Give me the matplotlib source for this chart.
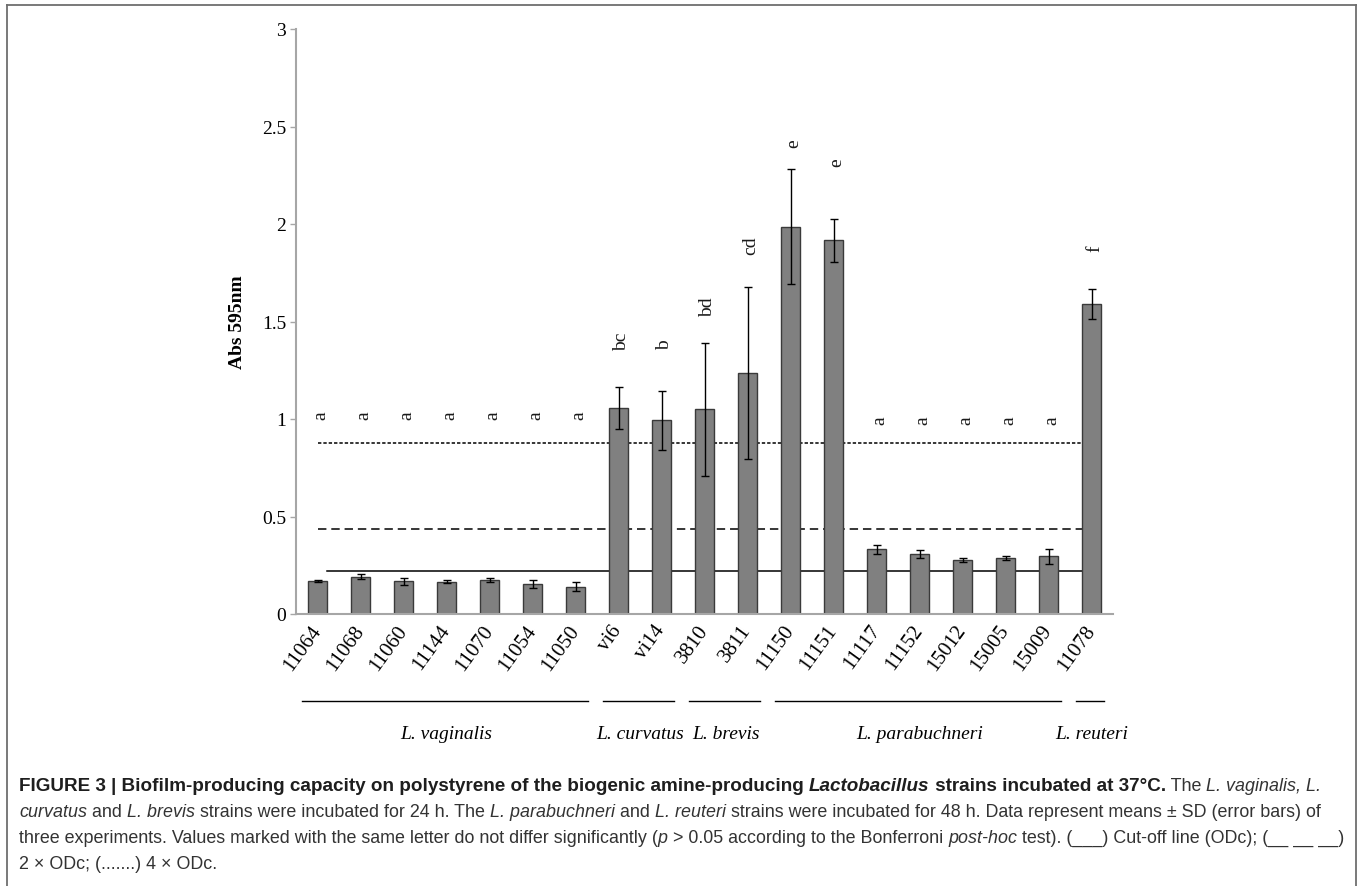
import matplotlib
matplotlib.use("Agg")
import matplotlib.pyplot as plt
import matplotlib.transforms as mtransforms
from matplotlib.lines import Line2D
import numpy as np

# strains and biofilm absorbance (mean, SD)
strains = ["11064", "11068", "11060", "11144", "11070", "11054", "11050",
           "vi6", "vi14", "3810", "3811", "11150", "11151",
           "11117", "11152", "15012", "15005", "15009", "11078"]
abs_mean = [0.168, 0.192, 0.168, 0.165, 0.175, 0.154, 0.141,
            1.057, 0.993, 1.049, 1.236, 1.987, 1.916,
            0.331, 0.308, 0.278, 0.289, 0.295, 1.590]
abs_sd = [0.005, 0.014, 0.017, 0.008, 0.012, 0.022, 0.021,
          0.108, 0.150, 0.340, 0.440, 0.295, 0.110,
          0.022, 0.021, 0.010, 0.011, 0.037, 0.078]

# significance letters and the height they are written at
letters = ["a"] * 7 + ["bc", "b", "bd", "cd", "e", "e"] + ["a"] * 5 + ["f"]
letter_y = [1.02] * 7 + [1.40, 1.385, 1.58, 1.895, 2.415, 2.32] + [0.995] * 5 + [1.88]

# species groups (first and last strain index)
groups = ["L. vaginalis", "L. curvatus", "L. brevis", "L. parabuchneri", "L. reuteri"]
group_first = [0, 7, 9, 11, 18]
group_last = [6, 8, 10, 17, 18]

# cut-off OD
odc = 0.219

serif = "Liberation Serif"
sans = "Liberation Sans"

fig = plt.figure(figsize=(13.62, 8.87), dpi=100)
W, H = 1362, 887
ax = fig.add_axes([296 / W, 1 - 615 / H, 817 / W, 585 / H])

x = np.arange(len(strains))
ax.bar(x, abs_mean, width=0.42, color="#808080", edgecolor="#3a3a3a",
       linewidth=1.0, zorder=2)
ax.errorbar(x, abs_mean, yerr=abs_sd, fmt="none", ecolor="black",
            elinewidth=1.0, capsize=3.0, capthick=1.0, zorder=3)

# ODc, 2xODc, 4xODc lines
ax.plot([0.23, 18.1], [odc, odc], color="black", lw=1.1, zorder=1)
ax.plot([0, 17.85], [2 * odc, 2 * odc], color="black", lw=1.1,
        dashes=(5.5, 3.2), zorder=1)
ax.plot([0, 18.0], [4 * odc, 4 * odc], color="black", lw=1.1,
        dashes=(2.2, 1.3), zorder=1)

for xi, lab, ly in zip(x, letters, letter_y):
    ax.text(xi + 0.08, ly, lab, rotation=90, ha="center", va="center",
            fontsize=14, family=serif, color="#1a1a1a")

ax.set_xlim(-0.5, 18.5)
ax.set_ylim(0, 3)
ax.set_yticks(np.arange(0, 3.01, 0.5))
ax.set_yticklabels(["0", "0.5", "1", "1.5", "2", "2.5", "3"],
                   fontsize=14, family=serif)
ax.set_xticks(x)
ax.set_xticklabels(strains, rotation=54, ha="right", va="center",
                   rotation_mode="anchor", fontsize=15, family=serif)
ax.tick_params(axis="x", length=0, pad=9)
ax.tick_params(axis="y", length=4, width=1.0, color="#a6a6a6", pad=3)
for s in ["top", "right"]:
    ax.spines[s].set_visible(False)
for s in ["left", "bottom"]:
    ax.spines[s].set_color("#a6a6a6")
    ax.spines[s].set_linewidth(1.5)

fig.text(238 / W, 1 - 322 / H, "Abs 595nm", rotation=90, ha="center",
         va="center", fontsize=14, fontweight="bold", family=serif)

# species brackets under the strain labels
trans = mtransforms.blended_transform_factory(ax.transData, ax.transAxes)
for name, f, l in zip(groups, group_first, group_last):
    ax.plot([f - 0.37, l + 0.3], [-0.1487, -0.1487], transform=trans,
            clip_on=False, color="black", lw=1.0)
    ax.text((f + l) / 2, -0.205, name, transform=trans, ha="center",
            va="center", fontsize=14, style="italic", family=serif)

# frame around the figure
fr = dict(color="#6e6e6e", lw=1.3, transform=fig.transFigure)
fig.add_artist(Line2D([7 / W, 7 / W], [0, 1 - 6 / H], **fr))
fig.add_artist(Line2D([7 / W, 1356 / W], [1 - 6 / H, 1 - 6 / H], **fr))
fig.add_artist(Line2D([1356 / W, 1356 / W], [0, 1 - 6 / H], **fr))

# caption, written run by run
B = dict(family=sans, fontweight="bold", color="#1e1e1e", fontsize=13.6)
BI = dict(family=sans, fontweight="bold", style="italic", color="#1e1e1e",
          fontsize=13.6)
R = dict(family=sans, color="#333333", fontsize=12.85)
I = dict(family=sans, style="italic", color="#333333", fontsize=12.85)

caption = [
    [("FIGURE 3 | Biofilm-producing capacity on polystyrene of the biogenic amine-producing ", B),
     ("Lactobacillus", BI), (" strains incubated at 37°C.", B), (" The ", R),
     ("L. vaginalis, L.", I)],
    [("curvatus", I), (" and ", R), ("L. brevis", I),
     (" strains were incubated for 24 h. The ", R), ("L. parabuchneri", I),
     (" and ", R), ("L. reuteri", I),
     (" strains were incubated for 48 h. Data represent means ± SD (error bars) of", R)],
    [("three experiments. Values marked with the same letter do not differ significantly (", R),
     ("p", I), (" > 0.05 according to the Bonferroni ", R), ("post-hoc", I),
     (" test). (___) Cut-off line (ODc); (__ __ __)", R)],
    [("2 × ODc; (.......) 4 × ODc.", R)],
]
renderer = fig.canvas.get_renderer()


def run_width(s, props):
    t1 = fig.text(0, 0, "|" + s + "|", **props)
    t2 = fig.text(0, 0, "||", **props)
    w = t1.get_window_extent(renderer).width - t2.get_window_extent(renderer).width
    t1.remove()
    t2.remove()
    return w


for i, line in enumerate(caption):
    xp = 19.0
    yp = 791 + 26 * i
    for s, props in line:
        fig.text(xp / W, 1 - yp / H, s, va="baseline", ha="left", **props)
        xp += run_width(s, props)

fig.savefig("out.png", dpi=100)
